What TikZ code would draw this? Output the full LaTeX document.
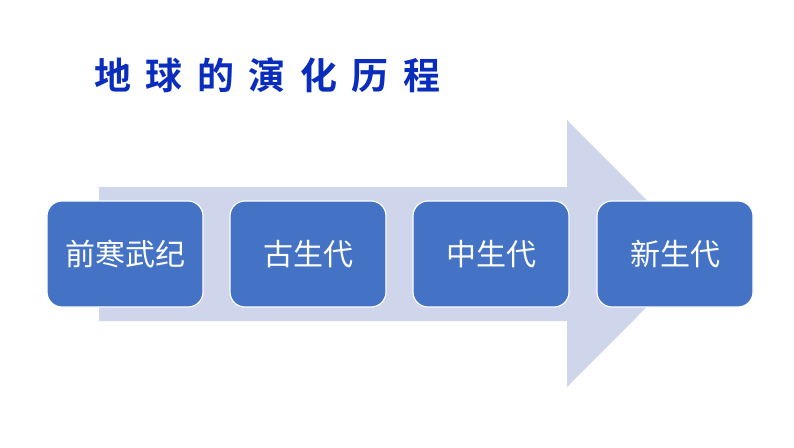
\documentclass[tikz,border=0pt]{standalone}
\usepackage{fontspec}
\newfontfamily\cjk{Noto Sans CJK SC}
\newfontfamily\cjkbold{Noto Sans CJK SC Bold}
\definecolor{boxblue}{HTML}{4472C4}
\definecolor{arrowfill}{HTML}{CFD5EA}
\definecolor{titleblue}{HTML}{0A2DBE}
\begin{document}
\begin{tikzpicture}[x=1pt,y=-1pt,
  stagebox/.style={draw=white,line width=1.2pt,fill=boxblue,rounded corners=15pt,
    minimum width=156pt,minimum height=106pt,inner sep=0pt,text=white,
    font=\cjk\fontsize{30}{33}\selectfont},
  titletext/.style={text=titleblue,font=\cjkbold\fontsize{37}{40}\selectfont,inner sep=0pt,anchor=west}]
\useasboundingbox (0,0) rectangle (794,447);
\fill[white] (0,0) rectangle (794,447);
\fill[arrowfill] (99,187) -- (567,187) -- (567,120) -- (700,253.5) -- (567,387) -- (567,321) -- (99,321) -- cycle;
\node[stagebox] (s1) at (125,254) {前寒武纪};
\node[stagebox] (s2) at (308,254) {古生代};
\node[stagebox] (s3) at (491,254) {中生代};
\node[stagebox] (s4) at (675,254) {新生代};
\node[titletext] (title) at (94,75) {地\hspace{14.5pt}球\hspace{14.5pt}的\hspace{14.5pt}演\hspace{14.5pt}化\hspace{14.5pt}历\hspace{14.5pt}程};
\end{tikzpicture}
\end{document}
